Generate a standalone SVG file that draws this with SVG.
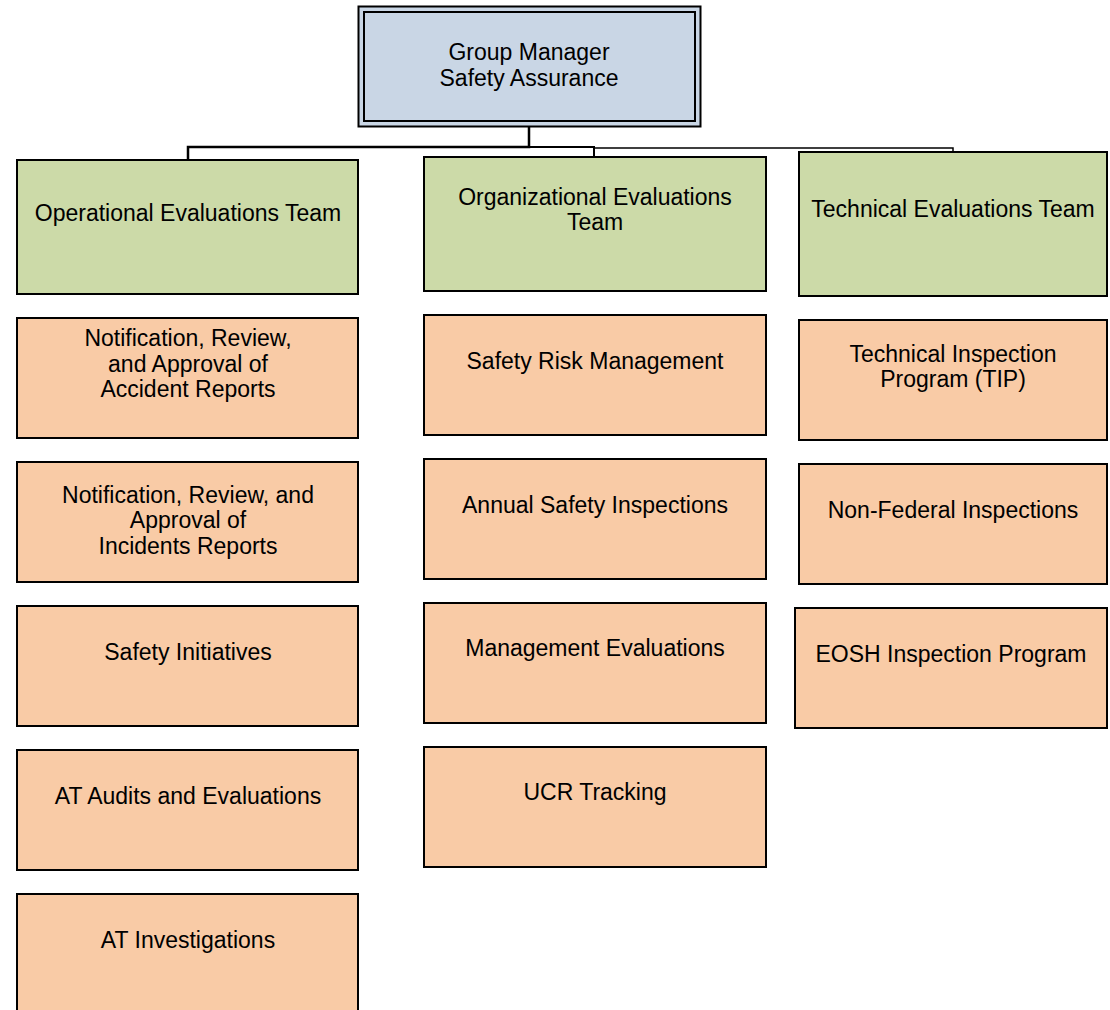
<svg xmlns="http://www.w3.org/2000/svg" width="1110" height="1010" viewBox="0 0 1110 1010">
<style>
.t{font-family:"Liberation Sans",Arial,sans-serif;font-size:23px;fill:#000;text-anchor:middle}
.g{fill:#ccdaa8;stroke:#000;stroke-width:2}
.o{fill:#f9cba6;stroke:#000;stroke-width:2}
.c{fill:none;stroke:#000;stroke-width:2}
</style>
<rect width="1110" height="1010" fill="#fff"/>
<g id="connectors">
<polyline class="c" points="529,126 529,147 188,147 188,160" style="stroke-width:2.5"/>
<polyline class="c" points="529,147 594,147 594,157"/>
<polyline class="c" points="594,148 953,148 953,152" style="stroke-width:1.5"/>
</g>
<g id="top">
<rect x="358.5" y="6.5" width="342" height="120" fill="#c9d6e5" stroke="#000" stroke-width="2"/>
<rect x="364" y="12" width="331" height="109" fill="none" stroke="#000" stroke-width="2"/>
<text class="t" x="529" y="60">Group Manager</text>
<text class="t" x="529" y="86">Safety Assurance</text>
</g>
<g id="op-team"><rect class="g" x="17" y="160" width="341" height="134"/><text class="t" x="188" y="221">Operational Evaluations Team</text></g>
<g id="org-team"><rect class="g" x="424" y="157" width="342" height="134"/><text class="t" x="595" y="205">Organizational Evaluations</text><text class="t" x="595" y="230">Team</text></g>
<g id="tech-team"><rect class="g" x="799" y="152" width="308" height="144"/><text class="t" x="953" y="217">Technical Evaluations Team</text></g>
<g id="op1"><rect class="o" x="17" y="318" width="341" height="120"/><text class="t" x="188" y="346">Notification, Review,</text><text class="t" x="188" y="372">and Approval of</text><text class="t" x="188" y="397">Accident Reports</text></g>
<g id="op2"><rect class="o" x="17" y="462" width="341" height="120"/><text class="t" x="188" y="503">Notification, Review, and</text><text class="t" x="188" y="528">Approval of</text><text class="t" x="188" y="554">Incidents Reports</text></g>
<g id="op3"><rect class="o" x="17" y="606" width="341" height="120"/><text class="t" x="188" y="660">Safety Initiatives</text></g>
<g id="op4"><rect class="o" x="17" y="750" width="341" height="120"/><text class="t" x="188" y="804">AT Audits and Evaluations</text></g>
<g id="op5"><rect class="o" x="17" y="894" width="341" height="130"/><text class="t" x="188" y="948">AT Investigations</text></g>
<g id="org1"><rect class="o" x="424" y="315" width="342" height="120"/><text class="t" x="595" y="369">Safety Risk Management</text></g>
<g id="org2"><rect class="o" x="424" y="459" width="342" height="120"/><text class="t" x="595" y="513">Annual Safety Inspections</text></g>
<g id="org3"><rect class="o" x="424" y="603" width="342" height="120"/><text class="t" x="595" y="656">Management Evaluations</text></g>
<g id="org4"><rect class="o" x="424" y="747" width="342" height="120"/><text class="t" x="595" y="800">UCR Tracking</text></g>
<g id="tech1"><rect class="o" x="799" y="320" width="308" height="120"/><text class="t" x="953" y="362">Technical Inspection</text><text class="t" x="953" y="387">Program (TIP)</text></g>
<g id="tech2"><rect class="o" x="799" y="464" width="308" height="120"/><text class="t" x="953" y="518">Non-Federal Inspections</text></g>
<g id="tech3"><rect class="o" x="795" y="608" width="312" height="120"/><text class="t" x="951" y="662">EOSH Inspection Program</text></g>
</svg>
